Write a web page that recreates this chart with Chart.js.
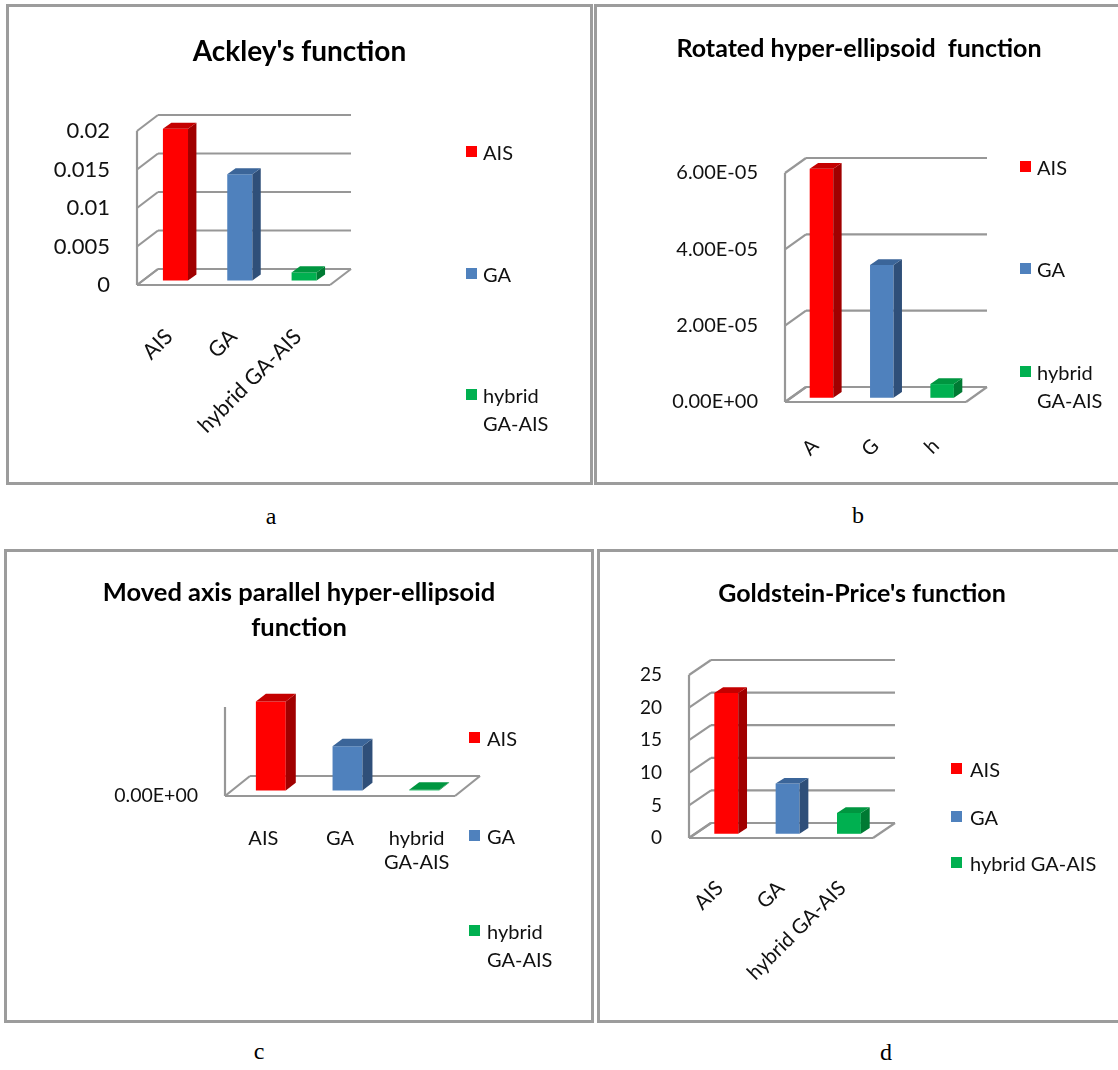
<!DOCTYPE html>
<html>
<head>
<meta charset="utf-8">
<script src="https://cdn.jsdelivr.net/npm/chart.js@4.4.1/dist/chart.umd.min.js"></script>
<style>
  body { margin: 0; width: 1118px; height: 1070px; overflow: hidden; background: #fff; position: relative; font-family: Lato, sans-serif; }
  .panel { position: absolute; box-sizing: border-box; border: 3px solid #9c9c9c; }
  .panel canvas { position: absolute; left: 0; top: 0; }
  .title { position: absolute; left: 0; right: 0; text-align: center; font-weight: bold; color: #000; }
  .item { position: absolute; font-size: 20px; line-height: 28px; color: #111; }
  .swatch { position: absolute; left: 0; top: 8px; width: 11px; height: 11px; }
  .cap { position: absolute; font-family: 'Liberation Serif', serif; font-size: 24px; color: #000; transform: translate(-50%, -50%); }
</style>
</head>
<body>

<div class="panel" id="panel-a" style="left:6px;top:4px;width:587px;height:481px;">
  <canvas width="581" height="475"></canvas>
  <div class="title" style="top:26px;font-size:28px;line-height:34px;">Ackley's function</div>
</div>
<div class="panel" id="panel-b" style="left:594px;top:4px;width:530px;height:481px;">
  <canvas width="524" height="475"></canvas>
  <div class="title" style="top:25px;font-size:25px;line-height:30px;">Rotated hyper-ellipsoid&nbsp; function</div>
</div>
<div class="panel" id="panel-c" style="left:4px;top:549px;width:590px;height:474px;">
  <canvas width="584" height="468"></canvas>
  <div class="title" style="top:22px;font-size:25.5px;line-height:35px;">Moved axis parallel hyper-ellipsoid<br>function</div>
</div>
<div class="panel" id="panel-d" style="left:597px;top:549px;width:530px;height:474px;">
  <canvas width="524" height="468"></canvas>
  <div class="title" style="top:25px;font-size:25px;line-height:30px;">Goldstein-Price's function</div>
</div>

<div class="cap" style="left:271px;top:516px;">a</div>
<div class="cap" style="left:858px;top:515px;">b</div>
<div class="cap" style="left:259px;top:1051px;">c</div>
<div class="cap" style="left:886px;top:1052px;">d</div>

<script>
// categories shared by all four charts
const categories = ['AIS', 'GA', 'hybrid GA-AIS'];

// a - Ackley's function
const ackleyValues = [0.0197, 0.0138, 0.00105];
const ackleyTicks = [0, 0.005, 0.01, 0.015, 0.02];

// b - Rotated hyper-ellipsoid function (axis labels got cut to one letter)
const rotatedLabels = ['A', 'G', 'h'];
const rotatedValues = [6.0e-5, 3.48e-5, 3.6e-6];
const rotatedTicks = [0, 2e-5, 4e-5, 6e-5];

// c - Moved axis parallel hyper-ellipsoid function (only the zero label shows)
const movedLabels = ['AIS', 'GA', ['hybrid', 'GA-AIS']];
const movedValues = [2.0e-9, 9.9e-10, 1.5e-11];
const movedTicks = [0];
const movedMax = 2.0e-9;

// d - Goldstein-Price's function
const goldsteinValues = [21.6, 7.7, 3.2];
const goldsteinTicks = [0, 5, 10, 15, 20, 25];

// bar face colours: front, right side, top
const frontColors = ['#ff0000', '#4f81bd', '#00b050'];
const sideColors = ['#a00000', '#2f4f79', '#007a33'];
const topColors = ['#c40000', '#3b6599', '#009640'];

function sci(v) {
  const parts = v.toExponential(2).split('e');
  const n = parseInt(parts[1], 10);
  return parts[0] + 'E' + (n < 0 ? '-' : '+') + String(Math.abs(n)).padStart(2, '0');
}

// draws the excel-like 3d walls, floor and bar sides
const depth3d = {
  id: 'depth3d',
  beforeDatasetsDraw(chart, args, opts) {
    const ctx = chart.ctx;
    const a = chart.chartArea;
    const y = chart.scales.y;
    const dx = opts.dx, dy = opts.dy;
    const line = (x1, y1, x2, y2) => { ctx.beginPath(); ctx.moveTo(x1, y1); ctx.lineTo(x2, y2); ctx.stroke(); };
    ctx.save();
    ctx.strokeStyle = '#979797';
    ctx.lineWidth = 2.2;
    if (opts.walls) {
      y.ticks.forEach(t => {
        const py = y.getPixelForValue(t.value);
        line(a.left + dx, py + dy, a.right + dx, py + dy);
        line(a.left, py, a.left + dx, py + dy);
      });
    }
    // front left edge
    line(a.left, a.top, a.left, a.bottom);
    // floor
    line(a.left, a.bottom, a.right, a.bottom);
    line(a.right, a.bottom, a.right + dx, a.bottom + dy);
    line(a.left, a.bottom, a.left + dx, a.bottom + dy);
    line(a.left + dx, a.bottom + dy, a.right + dx, a.bottom + dy);
    ctx.restore();
    // bars sit a bit back from the front edge
    ctx.save();
    ctx.translate(dx * 0.3, dy * 0.28);
  },
  afterDatasetsDraw(chart, args, opts) {
    const ctx = chart.ctx;
    const bx = opts.dx * 0.4, by = opts.dy * 0.38;
    const poly = (pts, color) => {
      ctx.fillStyle = color;
      ctx.beginPath();
      ctx.moveTo(pts[0][0], pts[0][1]);
      pts.slice(1).forEach(p => ctx.lineTo(p[0], p[1]));
      ctx.closePath();
      ctx.fill();
    };
    chart.getDatasetMeta(0).data.forEach((bar, i) => {
      const p = bar.getProps(['x', 'y', 'width', 'base'], true);
      const l = p.x - p.width / 2, r = p.x + p.width / 2;
      poly([[r, p.y], [r + bx, p.y + by], [r + bx, p.base + by], [r, p.base]], sideColors[i]);
      poly([[l, p.y], [l + bx, p.y + by], [r + bx, p.y + by], [r, p.y]], topColors[i]);
    });
    ctx.restore();
  }
};

// positions of each plot inside its panel (canvas pixels)
const panels = [
  { id: 'a', labels: categories, values: ackleyValues, ticks: ackleyTicks, max: 0.02,
    fmt: v => String(v), area: [128, 124, 321, 278], depth: [21, -16], walls: true,
    rot: 45, xPad: 39, xFont: 21.5, yFont: 22,
    legend: { x: 457, text: 474, ys: [145, 267, 388], width: 80 } },
  { id: 'b', labels: rotatedLabels, values: rotatedValues, ticks: rotatedTicks, max: 6e-5,
    fmt: v => sci(v), area: [188, 166, 369, 395], depth: [21, -15], walls: true,
    rot: 45, xPad: 32, xFont: 20, yFont: 20,
    legend: { x: 423, text: 440, ys: [160, 262, 365], width: 80 } },
  { id: 'c', labels: movedLabels, values: movedValues, ticks: movedTicks, max: movedMax,
    fmt: v => sci(v), area: [218, 155, 448, 244], depth: [25, -20], walls: false,
    rot: 0, xPad: 31, xFont: 20, yFont: 19.5,
    legend: { x: 462, text: 480, ys: [186, 284, 379], width: 80 } },
  { id: 'd', labels: categories, values: goldsteinValues, ticks: goldsteinTicks, max: 25,
    fmt: v => String(v), area: [89, 123, 273, 286], depth: [22, -15], walls: true,
    rot: 45, xPad: 38, xFont: 20.5, yFont: 19,
    legend: { x: 351, text: 370, ys: [217, 265, 311], width: 160 } }
];

panels.forEach(p => {
  const wrap = document.getElementById('panel-' + p.id);
  const canvas = wrap.querySelector('canvas');
  const L = p.area[0], T = p.area[1], R = p.area[2], B = p.area[3];
  const W = canvas.width, H = canvas.height;

  new Chart(canvas, {
    type: 'bar',
    data: {
      labels: p.labels,
      datasets: [{
        data: p.values,
        backgroundColor: frontColors,
        borderWidth: 0,
        barPercentage: 0.39,
        categoryPercentage: 1,
        clip: false
      }]
    },
    options: {
      responsive: false,
      animation: false,
      devicePixelRatio: 1,
      layout: { padding: { left: 0, top: T, right: W - R, bottom: 0 } },
      plugins: {
        legend: { display: false },
        tooltip: { enabled: false },
        depth3d: { dx: p.depth[0], dy: p.depth[1], walls: p.walls }
      },
      scales: {
        x: {
          grid: { display: false, drawTicks: false },
          border: { display: false },
          ticks: {
            autoSkip: false,
            maxRotation: p.rot,
            minRotation: p.rot,
            padding: p.xPad,
            color: '#111',
            font: { family: 'Lato', size: p.xFont }
          },
          afterFit: s => { s.height = H - B; }
        },
        y: {
          min: 0,
          max: p.max,
          grid: { display: false, drawTicks: false },
          border: { display: false },
          afterBuildTicks: s => { s.ticks = p.ticks.map(v => ({ value: v })); },
          ticks: {
            padding: 27,
            color: '#111',
            font: { family: 'Lato', size: p.yFont },
            callback: v => p.fmt(v)
          },
          afterFit: s => { s.width = L; }
        }
      }
    },
    plugins: [depth3d]
  });

  // legend entries spread down the right side, like the excel original
  categories.forEach((name, i) => {
    const item = document.createElement('div');
    item.className = 'item';
    item.style.left = p.legend.x + 'px';
    item.style.top = (p.legend.ys[i] - 14) + 'px';
    item.style.width = (p.legend.width + p.legend.text - p.legend.x) + 'px';
    item.style.paddingLeft = (p.legend.text - p.legend.x) + 'px';
    item.style.boxSizing = 'border-box';
    const sw = document.createElement('span');
    sw.className = 'swatch';
    sw.style.background = frontColors[i];
    item.appendChild(sw);
    item.appendChild(document.createTextNode(name));
    wrap.appendChild(item);
  });
});
</script>
</body>
</html>
